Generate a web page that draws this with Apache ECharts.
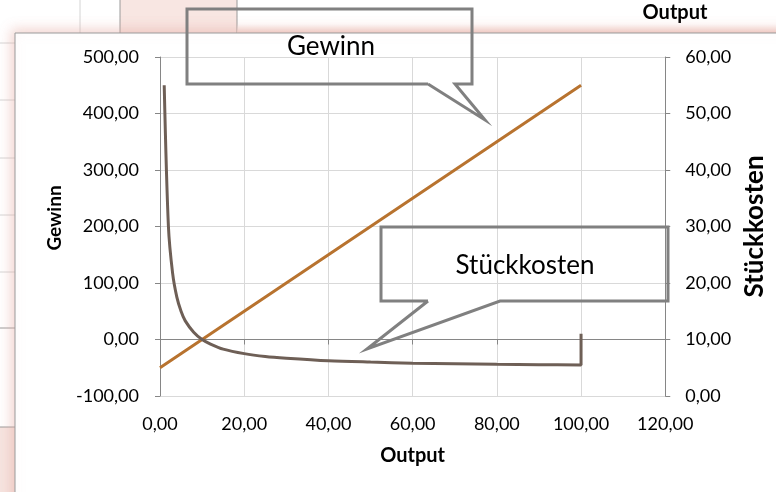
<!DOCTYPE html>
<html><head><meta charset="utf-8">
<script src="https://cdn.jsdelivr.net/npm/echarts@6/dist/echarts.min.js"></script>
<style>html,body{margin:0;padding:0;background:#fff}#c{width:776px;height:492px}</style>
</head><body><div id="c"></div>
<script>
// Data
const gewinnX = [0, 10, 20, 30, 40, 50, 60, 70, 80, 90, 100];
const gewinnY = [-50, 0, 50, 100, 150, 200, 250, 300, 350, 400, 450];
const stkX = [1, 2, 3, 4, 5, 6, 8, 10, 12, 15, 20, 25, 30, 40, 50, 60, 70, 80, 90, 100, 100];
const stkY = [55, 30, 21.7, 17.5, 15, 13.3, 11.3, 10, 9.2, 8.3, 7.5, 7, 6.7, 6.25, 6, 5.8, 5.7, 5.6, 5.55, 5.5, 11];
const xTicks = {min: 0, max: 120, interval: 20};
const yLeftTicks = {min: -100, max: 500, interval: 100};
const yRightTicks = {min: 0, max: 60, interval: 10};

const FONT = 'Lato';
const fmt = v => v.toFixed(2).replace('.', ',');
const axisLineStyle = {color: '#868686', width: 1};

const chart = echarts.init(document.getElementById('c'));
const bgGraphics = [
  {type: 'rect', shape: {x: 120, y: 0, width: 117, height: 33}, style: {fill: '#f8e6e2'}, z: -10},
  {type: 'rect', shape: {x: 0, y: 427, width: 15, height: 65}, style: {fill: '#f6e4e0'}, z: -10},
  {type: 'line', shape: {x1: 80, y1: 0, x2: 80, y2: 33}, style: {stroke: '#d4d4d4', lineWidth: 1}, z: -9},
  {type: 'line', shape: {x1: 120, y1: 0, x2: 120, y2: 33}, style: {stroke: '#9a9a9a', lineWidth: 1}, z: -9},
  {type: 'line', shape: {x1: 237, y1: 0, x2: 237, y2: 33}, style: {stroke: '#9a9a9a', lineWidth: 1}, z: -9},
  {type: 'line', shape: {x1: 237, y1: 33, x2: 776, y2: 33}, style: {stroke: '#9a9a9a', lineWidth: 1}, z: -9},
  {type: 'rect', shape: {x: 237, y: 24, width: 539, height: 9}, style: {fill: new echarts.graphic.LinearGradient(0,0,0,1,[{offset:0,color:'rgba(248,230,226,0)'},{offset:1,color:'rgba(244,220,214,1)'}])}, z: -9},
  {type: 'line', shape: {x1: 0, y1: 43, x2: 15, y2: 43}, style: {stroke: '#d4d4d4', lineWidth: 1}, z: -9},
  {type: 'line', shape: {x1: 0, y1: 100, x2: 15, y2: 100}, style: {stroke: '#d4d4d4', lineWidth: 1}, z: -9},
  {type: 'line', shape: {x1: 0, y1: 158, x2: 15, y2: 158}, style: {stroke: '#d4d4d4', lineWidth: 1}, z: -9},
  {type: 'line', shape: {x1: 0, y1: 215, x2: 15, y2: 215}, style: {stroke: '#d4d4d4', lineWidth: 1}, z: -9},
  {type: 'line', shape: {x1: 0, y1: 272, x2: 15, y2: 272}, style: {stroke: '#d4d4d4', lineWidth: 1}, z: -9},
  {type: 'line', shape: {x1: 0, y1: 328, x2: 15, y2: 328}, style: {stroke: '#9a9a9a', lineWidth: 1}, z: -9},
  {type: 'line', shape: {x1: 0, y1: 427, x2: 15, y2: 427}, style: {stroke: '#9a9a9a', lineWidth: 1}, z: -9},
  {type: 'text', x: 675, y: 13, style: {text: 'Output', font: 'bold 20px ' + FONT, fill: '#000', align: 'center', verticalAlign: 'middle'}, z: -8},
  {type: 'rect', shape: {x: 15, y: 33, width: 780, height: 480}, style: {fill: '#fff', stroke: '#9a9a9a', lineWidth: 1, shadowBlur: 12, shadowColor: 'rgba(230,170,160,0.5)', shadowOffsetX: -3, shadowOffsetY: -3}, z: -5},
  {type: 'polyline', shape: {points: [[428,84],[187,84],[187,9],[472,9],[472,84],[455,84],[485,120],[428,84]]}, style: {stroke: '#808080', lineWidth: 3, fill: null}, z: 50},
  {type: 'text', x: 331, y: 47, style: {text: 'Gewinn', font: '26px ' + FONT, fill: '#000', align: 'center', verticalAlign: 'middle'}, z: 51},
  {type: 'polyline', shape: {points: [[428,301],[381,301],[381,227],[668,227],[668,301],[500,301],[367,349],[428,301]]}, style: {stroke: '#808080', lineWidth: 3, fill: null}, z: 50},
  {type: 'text', x: 525, y: 266, style: {text: 'Stückkosten', font: '26px ' + FONT, fill: '#000', align: 'center', verticalAlign: 'middle'}, z: 51}
];

chart.setOption({
  animation: false,
  backgroundColor: '#fff',
  textStyle: {fontFamily: FONT},
  grid: {left: 160, right: 110, top: 57, bottom: 96, containLabel: false},
  xAxis: {
    type: 'value', min: xTicks.min, max: xTicks.max, interval: xTicks.interval,
    name: 'Output', nameLocation: 'middle', nameGap: 50,
    nameTextStyle: {fontFamily: FONT, fontWeight: 'bold', fontSize: 20, color: '#000'},
    axisLine: {lineStyle: axisLineStyle}, axisTick: {show: true, length: 5, lineStyle: axisLineStyle},
    axisLabel: {formatter: fmt, fontFamily: FONT, fontSize: 18, color: '#000', margin: 19},
    splitLine: {show: true, lineStyle: {color: '#d9d9d9'}}
  },
  yAxis: [{
    type: 'value', min: yLeftTicks.min, max: yLeftTicks.max, interval: yLeftTicks.interval,
    name: 'Gewinn', nameLocation: 'middle', nameGap: 96, nameRotate: 90,
    nameTextStyle: {fontFamily: FONT, fontWeight: 'bold', fontSize: 19, color: '#000', padding: [0, 0, 0, 17]},
    axisLine: {show: true, lineStyle: axisLineStyle}, axisTick: {show: true, length: 5, lineStyle: axisLineStyle},
    axisLabel: {formatter: fmt, fontFamily: FONT, fontSize: 18, color: '#000', margin: 21},
    splitLine: {show: true, lineStyle: {color: '#d9d9d9'}}
  }, {
    type: 'value', position: 'right', min: yRightTicks.min, max: yRightTicks.max, interval: yRightTicks.interval,
    name: 'Stückkosten', nameLocation: 'middle', nameGap: 74, nameRotate: 90,
    nameTextStyle: {fontFamily: FONT, fontWeight: 'bold', fontSize: 26, color: '#000'},
    axisLine: {show: true, lineStyle: axisLineStyle}, axisTick: {show: true, length: 5, lineStyle: axisLineStyle},
    axisLabel: {formatter: fmt, fontFamily: FONT, fontSize: 18, color: '#000', margin: 20},
    splitLine: {show: false}
  }],
  series: [{
    name: 'Gewinn', type: 'line', yAxisIndex: 0, showSymbol: false,
    data: gewinnX.map((x, i) => [x, gewinnY[i]]),
    lineStyle: {color: '#B8732F', width: 3}, itemStyle: {color: '#B8732F'}
  }, {
    name: 'Stückkosten', type: 'line', yAxisIndex: 1, showSymbol: false, smooth: 0.3,
    data: stkX.map((x, i) => [x, stkY[i]]),
    lineStyle: {color: '#6E5F56', width: 3}, itemStyle: {color: '#6E5F56'}
  }],
  graphic: bgGraphics
});
</script></body></html>
